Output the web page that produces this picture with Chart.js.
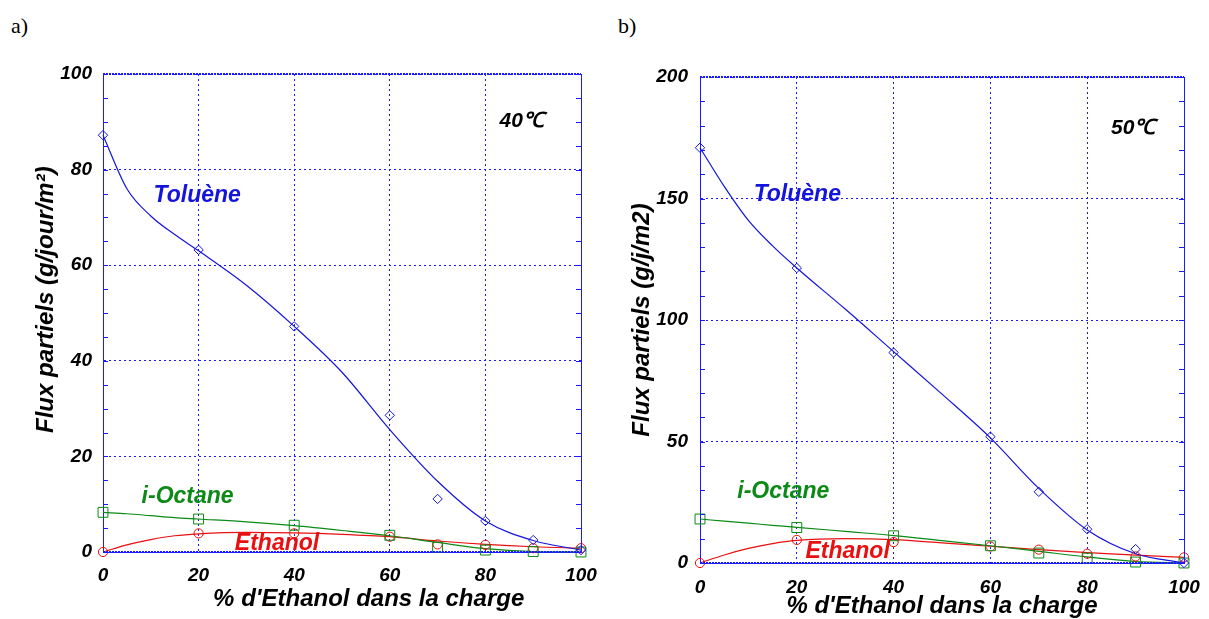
<!DOCTYPE html>
<html>
<head>
<meta charset="utf-8">
<script src="https://cdn.jsdelivr.net/npm/chart.js@4.4.0/dist/chart.umd.min.js"></script>
<style>
  body { margin: 0; background: #fff; width: 1209px; height: 619px; overflow: hidden; position: relative; }
  .panel { position: absolute; top: 0; }
  .tag { position: absolute; top: 13px; font: 22px "Liberation Serif", serif; color: #000; }
</style>
</head>
<body>
<div class="tag" style="left:11px">a)</div>
<div class="tag" style="left:618px">b)</div>
<canvas class="panel" id="chartA" width="609" height="619" style="left:0"></canvas>
<canvas class="panel" id="chartB" width="608" height="619" style="left:605px"></canvas>
<script>
// % ethanol in the feed (measured points)
const ethanolPct = [0, 20, 40, 60, 70, 80, 90, 100];

// a) 40°C measured partial fluxes
const toluene40 = [87.2, 63.2, 47.2, 28.6, 11.1, 6.5, 2.5, 0.4];
const octane40 = [8.3, 6.9, 5.6, 3.5, 1.0, 0.4, 0.1, 0];
const ethanol40 = [0, 3.9, 3.9, 3.2, 1.6, 1.5, 0.8, 0.8];

// b) 50°C measured partial fluxes
const toluene50 = [170.9, 121.4, 86.6, 52.0, 29.3, 13.9, 5.7, 0];
const octane50 = [18.1, 14.6, 11.2, 7.1, 4.1, 2.0, 0.4, 0];
const ethanol50 = [0, 9.5, 8.6, 6.8, 5.5, 3.8, 2.7, 2.3];

// fitted curves
const fitPct = [0, 5, 10, 15, 20, 30, 40, 50, 60, 70, 80, 90, 100];
const toluene40Fit = [87.2, 76, 70.3, 66.4, 63, 55.8, 47.2, 37.6, 25.6, 14.8, 6.5, 2.4, 0.4];
const octane40Fit = [8.3, 8.0, 7.6, 7.2, 6.9, 6.3, 5.5, 4.5, 3.4, 2.0, 0.7, 0.1, 0];
const ethanol40Fit = [0, 1.5, 2.6, 3.4, 3.8, 4.1, 4.0, 3.7, 3.2, 2.3, 1.6, 1.1, 0.8];
const toluene50Fit = [170.9, 155, 141, 130.5, 121.4, 104.5, 87, 69.5, 51.5, 30.7, 13.6, 3.8, 0];
const octane50Fit = [18.1, 17.2, 16.4, 15.5, 14.7, 13.0, 11.3, 9.2, 7.1, 4.8, 2.5, 0.6, 0];
const ethanol50Fit = [0, 3.3, 6.0, 8.0, 9.3, 10.0, 9.6, 8.3, 6.9, 5.5, 4.3, 3.2, 2.3];

const xTicks = [0, 20, 40, 60, 80, 100];

const BLUE = '#1414dc';
const GREEN = '#0b8a16';
const RED = '#e81010';
const GRID = '#1a1aff';
const FONT = '"Liberation Sans", Arial, sans-serif';

const pts = (xs, ys) => xs.map((x, i) => ({ x: x, y: ys[i] }));

function markers(ys, color, style, r) {
  return {
    data: pts(ethanolPct, ys), showLine: false, clip: false,
    pointStyle: style, pointRadius: r, pointBorderWidth: 1,
    pointBorderColor: color, pointBackgroundColor: 'rgba(0,0,0,0)'
  };
}
function curve(ys, color) {
  return {
    data: pts(fitPct, ys), pointRadius: 0, borderWidth: 1.2,
    borderColor: color, cubicInterpolationMode: 'monotone', clip: false
  };
}

// inner frame: right edge, dense top/bottom edges, minor ticks both sides
const framePlugin = {
  id: 'frame',
  afterDraw(chart, args, opts) {
    const { ctx, chartArea: a } = chart;
    const y = chart.scales.y;
    ctx.save();
    ctx.strokeStyle = GRID;
    ctx.lineWidth = 1;
    ctx.beginPath();
    ctx.moveTo(a.right + 0.5, a.top);
    ctx.lineTo(a.right + 0.5, a.bottom);
    for (let v = y.min; v <= y.max; v += opts.minor) {
      const py = Math.round(y.getPixelForValue(v)) + 0.5;
      ctx.moveTo(a.left, py); ctx.lineTo(a.left + 5, py);
      ctx.moveTo(a.right, py); ctx.lineTo(a.right - 5, py);
    }
    ctx.stroke();
    ctx.lineWidth = 2;
    ctx.setLineDash([2, 1]);
    ctx.beginPath();
    ctx.moveTo(a.left, a.top); ctx.lineTo(a.right, a.top);
    ctx.moveTo(a.left, a.bottom); ctx.lineTo(a.right, a.bottom);
    ctx.stroke();
    ctx.restore();
  }
};

// series names and temperature written inside the plot
const notesPlugin = {
  id: 'notes',
  afterDraw(chart, args, opts) {
    const { ctx, scales: { x, y } } = chart;
    ctx.save();
    ctx.textAlign = 'center';
    ctx.textBaseline = 'middle';
    opts.items.forEach(n => {
      ctx.font = 'italic bold ' + n.size + 'px ' + FONT;
      ctx.fillStyle = n.color;
      ctx.fillText(n.text, x.getPixelForValue(n.x), y.getPixelForValue(n.y));
    });
    ctx.restore();
  }
};

function makeChart(id, p) {
  return new Chart(document.getElementById(id), {
    type: 'line',
    data: {
      datasets: [
        markers(p.tol, BLUE, 'rectRot', 4.7),
        markers(p.oct, GREEN, 'rect', 7),
        markers(p.eth, RED, 'circle', 4.6),
        curve(p.tolFit, BLUE),
        curve(p.octFit, GREEN),
        curve(p.ethFit, RED)
      ]
    },
    options: {
      responsive: false,
      animation: false,
      layout: { padding: p.pad },
      plugins: {
        legend: { display: false },
        tooltip: { enabled: false },
        frame: { minor: p.minor },
        notes: { items: p.notes }
      },
      scales: {
        x: {
          type: 'linear', min: 0, max: 100,
          afterBuildTicks: s => { s.ticks = xTicks.map(v => ({ value: v })); },
          afterFit: s => { s.height = p.xh; },
          ticks: { color: '#000', padding: p.xtp, maxRotation: 0,
                   font: { family: FONT, size: 19, style: 'italic', weight: 'bold' } },
          grid: { color: GRID, lineWidth: 1, drawTicks: false },
          border: { color: GRID, width: 1, dash: [2, 3] },
          title: { display: true, text: p.xtitle, color: '#000',
                   padding: { top: 0, bottom: p.xtb },
                   font: { family: FONT, size: 24, style: 'italic', weight: 'bold', lineHeight: 1.2 } }
        },
        y: {
          min: 0, max: p.ymax,
          afterFit: s => { s.width = p.yw; },
          ticks: { stepSize: p.ystep, color: '#000', padding: p.ytp,
                   font: { family: FONT, size: 19, style: 'italic', weight: 'bold' } },
          grid: { color: GRID, lineWidth: 1, drawTicks: false },
          border: { color: GRID, width: 1, dash: [2, 3] },
          title: { display: true, text: p.ytitle, color: '#000',
                   padding: { top: p.ytt, bottom: 0 },
                   font: { family: FONT, size: 24, style: 'italic', weight: 'bold', lineHeight: 1.2 } }
        }
      }
    },
    plugins: [framePlugin, notesPlugin]
  });
}

makeChart('chartA', {
  tol: toluene40, oct: octane40, eth: ethanol40,
  tolFit: toluene40Fit, octFit: octane40Fit, ethFit: ethanol40Fit,
  ymax: 100, ystep: 20, minor: 5,
  pad: { top: 74, right: 28, left: 0, bottom: 0 },
  yw: 103, xh: 67, ytp: 11, xtp: 12, ytt: 32, xtb: 5,
  // leading spaces shift the centred titles the way the original sits
  xtitle: "        % d'Ethanol dans la charge",
  ytitle: '    Flux partiels (g/jour/m²)',
  notes: [
    { text: '40℃', x: 87.6, y: 90.2, color: '#000', size: 21 },
    { text: 'Toluène', x: 19.7, y: 74.5, color: BLUE, size: 23 },
    { text: 'i-Octane', x: 17.7, y: 11.5, color: GREEN, size: 23 },
    { text: 'Ethanol', x: 36.4, y: 1.7, color: RED, size: 23 }
  ]
});

makeChart('chartB', {
  tol: toluene50, oct: octane50, eth: ethanol50,
  tolFit: toluene50Fit, octFit: octane50Fit, ethFit: ethanol50Fit,
  ymax: 200, ystep: 50, minor: 10,
  pad: { top: 77, right: 29, left: 0, bottom: 0 },
  yw: 95, xh: 56, ytp: 12, xtp: 13, ytt: 23, xtb: -2,
  xtitle: "% d'Ethanol dans la charge",
  ytitle: 'Flux partiels (g/j/m2)',
  notes: [
    { text: '50℃', x: 89.5, y: 179, color: '#000', size: 21 },
    { text: 'Toluène', x: 20.1, y: 151.4, color: BLUE, size: 23 },
    { text: 'i-Octane', x: 17.2, y: 29.3, color: GREEN, size: 23 },
    { text: 'Ethanol', x: 30.5, y: 4.8, color: RED, size: 23 }
  ]
});
</script>
</body>
</html>
